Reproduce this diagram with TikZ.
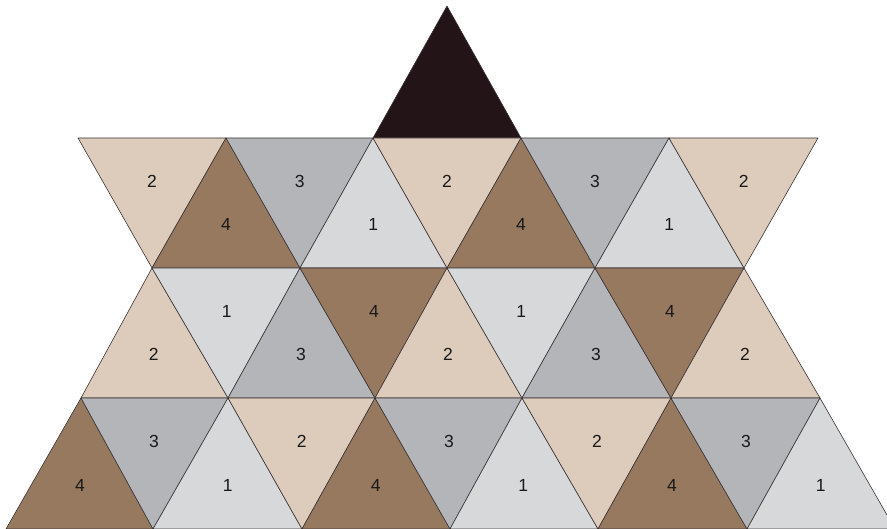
\documentclass[tikz,border=0pt]{standalone}
\usepackage{fontspec}
\setmainfont{Liberation Sans}
\definecolor{cone}{HTML}{D6D8DA}
\definecolor{ctwo}{HTML}{DDCBBB}
\definecolor{cthree}{HTML}{B3B5B9}
\definecolor{cfour}{HTML}{977960}
\definecolor{ctop}{HTML}{231418}
\definecolor{edge}{HTML}{3A3436}
\tikzset{
  tile/.style={draw=edge, line width=0.6pt, line join=round},
  num/.style={font=\fontsize{17.5}{19}\selectfont, text=black!90, inner sep=0pt}
}
\newcommand{\tri}[6]{%
  \filldraw[tile, fill=#4] (#1) -- (#2) -- (#3) -- cycle;
  \node[num] (#6) at (barycentric cs:#1=1,#2=1,#3=1) {#5};}
\begin{document}
\begin{tikzpicture}[x=1pt,y=-1pt]
\useasboundingbox (0,0) rectangle (887,529);
\clip (0,0) rectangle (887,529);
% lattice
\coordinate (T) at (447,6);
\foreach \n/\x in {0/78,1/226,2/373,3/521,4/669,5/818} \coordinate (A\n) at (\x,138);
\foreach \n/\x in {0/152,1/300,2/447,3/595,4/744} \coordinate (B\n) at (\x,268);
\foreach \n/\x in {0/81,1/228,2/375,3/522,4/671,5/820} \coordinate (C\n) at (\x,398);
\foreach \n/\x in {0/6,1/153,2/302,3/450,4/598,5/747,6/895} \coordinate (D\n) at (\x,529);
% top triangle
\filldraw[tile, fill=ctop] (T) -- (A2) -- (A3) -- cycle;
% row 1
\tri{A0}{A1}{B0}{ctwo}{2}{ra1}
\tri{B0}{B1}{A1}{cfour}{4}{ra2}
\tri{A1}{A2}{B1}{cthree}{3}{ra3}
\tri{B1}{B2}{A2}{cone}{1}{ra4}
\tri{A2}{A3}{B2}{ctwo}{2}{ra5}
\tri{B2}{B3}{A3}{cfour}{4}{ra6}
\tri{A3}{A4}{B3}{cthree}{3}{ra7}
\tri{B3}{B4}{A4}{cone}{1}{ra8}
\tri{A4}{A5}{B4}{ctwo}{2}{ra9}
% row 2
\tri{C0}{C1}{B0}{ctwo}{2}{rb1}
\tri{B0}{B1}{C1}{cone}{1}{rb2}
\tri{C1}{C2}{B1}{cthree}{3}{rb3}
\tri{B1}{B2}{C2}{cfour}{4}{rb4}
\tri{C2}{C3}{B2}{ctwo}{2}{rb5}
\tri{B2}{B3}{C3}{cone}{1}{rb6}
\tri{C3}{C4}{B3}{cthree}{3}{rb7}
\tri{B3}{B4}{C4}{cfour}{4}{rb8}
\tri{C4}{C5}{B4}{ctwo}{2}{rb9}
% row 3
\tri{D0}{D1}{C0}{cfour}{4}{rc1}
\tri{C0}{C1}{D1}{cthree}{3}{rc2}
\tri{D1}{D2}{C1}{cone}{1}{rc3}
\tri{C1}{C2}{D2}{ctwo}{2}{rc4}
\tri{D2}{D3}{C2}{cfour}{4}{rc5}
\tri{C2}{C3}{D3}{cthree}{3}{rc6}
\tri{D3}{D4}{C3}{cone}{1}{rc7}
\tri{C3}{C4}{D4}{ctwo}{2}{rc8}
\tri{D4}{D5}{C4}{cfour}{4}{rc9}
\tri{C4}{C5}{D5}{cthree}{3}{rc10}
\tri{D5}{D6}{C5}{cone}{1}{rc11}
\end{tikzpicture}
\end{document}
